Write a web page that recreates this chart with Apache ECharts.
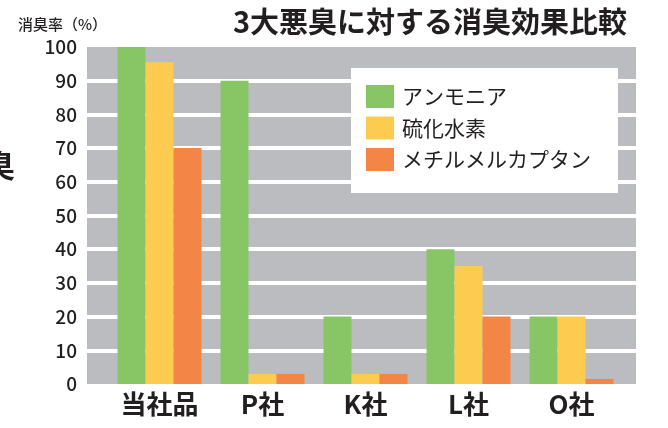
<!DOCTYPE html>
<html lang="ja">
<head>
    <meta charset="UTF-8">
    <title>3大悪臭に対する消臭効果比較</title>
    <script src="https://cdn.jsdelivr.net/npm/echarts@6/dist/echarts.min.js"></script>
    <style>
        * { margin: 0; padding: 0; }
        body { background: #fff; }
        #chart { width: 668px; height: 428px; }
    </style>
</head>
<body>
    <div id="chart"></div>
    <script>
        const categories = ['当社品', 'P社', 'K社', 'L社', 'O社'];
        const seriesNames = ['アンモニア', '硫化水素', 'メチルメルカプタン'];
        const ammonia = [100, 90, 20, 40, 20];
        const hydrogenSulfide = [95.5, 3, 3, 35, 20];
        const methylMercaptan = [70, 3, 3, 20, 1.5];
        const colors = ['#88c665', '#fdcb4f', '#f38546'];

        const font = '"Noto Sans CJK JP", "Noto Sans", sans-serif';
        const textColor = '#231f20';

        const chart = echarts.init(document.getElementById('chart'), null, { renderer: 'canvas' });

        const values = [ammonia, hydrogenSulfide, methylMercaptan];

        const option = {
            animation: false,
            textStyle: { fontFamily: font },
            grid: [
                // gray plotting background with white bands
                { left: 87, right: 32, top: 47, bottom: 44, show: true, backgroundColor: '#bbbcc0', borderWidth: 0 },
                // bars
                { left: 108, right: 45, top: 47, bottom: 44 }
            ],
            xAxis: [
                { gridIndex: 0, type: 'value', show: false, min: 0, max: 1 },
                {
                    gridIndex: 1, type: 'category', data: categories,
                    axisLine: { show: false }, axisTick: { show: false },
                    axisLabel: { fontSize: 26, fontWeight: 'bold', color: textColor, margin: 7, fontFamily: font }
                }
            ],
            yAxis: [
                {
                    gridIndex: 0, type: 'value', min: 0, max: 100, interval: 10,
                    axisLine: { show: false }, axisTick: { show: false },
                    axisLabel: { fontSize: 19, fontWeight: 500, color: textColor, margin: 10, fontFamily: font },
                    splitLine: { show: true, showMinLine: false, showMaxLine: false, lineStyle: { color: '#ffffff', width: 4 } }
                },
                { gridIndex: 1, type: 'value', min: 0, max: 100, interval: 10, show: false, splitLine: { show: false } }
            ],
            legend: {
                orient: 'vertical', left: 366, top: 85, itemGap: 8.5,
                itemWidth: 28, itemHeight: 23, icon: 'rect', padding: 0,
                data: seriesNames, z: 10,
                textStyle: { fontSize: 21, color: textColor, fontFamily: font, padding: [0, 0, 0, 3] }
            },
            graphic: [
                { type: 'rect', shape: { x: 351, y: 68, width: 267, height: 125 }, style: { fill: '#ffffff' }, z: 5 },
                {
                    type: 'text', x: 627, y: 22, z: 5,
                    style: { text: '3大悪臭に対する消臭効果比較', font: 'bold 29px ' + font, fill: textColor, align: 'right', verticalAlign: 'middle' }
                },
                {
                    type: 'text', x: 18, y: 24, z: 5,
                    style: { text: '消臭率（%）', font: '500 15px ' + font, fill: textColor, align: 'left', verticalAlign: 'middle' }
                },
                {
                    type: 'text', x: -16, y: 165, z: 5,
                    style: { text: '臭', font: 'bold 31px ' + font, fill: textColor, align: 'left', verticalAlign: 'middle' }
                }
            ],
            series: seriesNames.map((name, i) => ({
                name: name,
                type: 'bar',
                xAxisIndex: 1,
                yAxisIndex: 1,
                barWidth: 28,
                barGap: '0%',
                itemStyle: { color: colors[i] },
                data: values[i]
            }))
        };

        chart.setOption(option);
    </script>
</body>
</html>
